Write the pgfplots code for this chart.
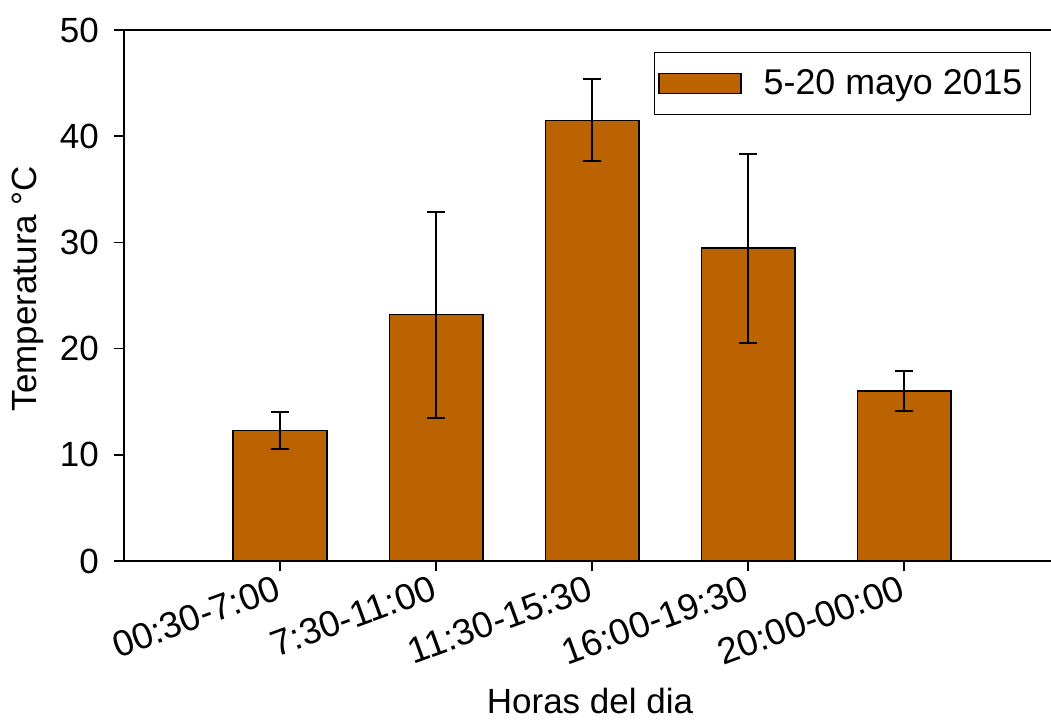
\documentclass[border=0pt]{standalone}
\usepackage{pgfplots}
\pgfplotsset{compat=1.18}
\usepackage{fontspec}
\setmainfont{Liberation Sans}
\definecolor{barbrown}{RGB}{187,99,0}
\newcommand{\chartfont}{\fontsize{17.5}{21}\selectfont}
\newcommand{\tickfont}{\fontsize{18.3}{22}\selectfont}
\newcommand{\legendfont}{\fontsize{17.9}{21}\selectfont}

\pgfplotstableread{
x  y     e
0  12.3  1.73
1  23.2  9.70
2  41.5  3.85
3  29.45 8.90
4  16.0  1.88
}\temps

\begin{document}
\begin{tikzpicture}
\begin{axis}[
  name=ax,
  scale only axis,
  width=463.5pt, height=265.5pt,
  ybar,
  xmin=-1, xmax=4.94,
  ymin=0, ymax=50,
  ytick={0,10,...,50},
  xtick={0,...,4},
  xticklabels={00:30-7:00,7:30-11:00,11:30-15:30,16:00-19:30,20:00-00:00},
  axis x line*=box, axis y line*=left,
  xtick pos=lower,
  tick align=outside,
  major tick length=5pt,
  axis line style={line width=0.85pt, black},
  every tick/.style={line width=0.85pt, black},
  /pgf/number format/assume math mode=true,
  yticklabel style={font=\chartfont, xshift=-4pt},
  xticklabel style={font=\tickfont, rotate=20, anchor=north east, yshift=3pt},
  ylabel={Temperatura °C},
  xlabel={Horas del dia},
  every axis y label/.style={at={(axis description cs:-0.1036,0.513)}, rotate=90, anchor=center, font=\chartfont},
  every axis x label/.style={at={(axis description cs:0.5027,-0.288)}, anchor=base, font=\chartfont},
  legend style={at={(axis description cs:0.9784,0.9586)}, anchor=north east,
    draw=black, line width=0.5pt, font=\legendfont, inner xsep=2pt, inner ysep=6.5pt},
  legend image code/.code={
    \draw[#1, line width=0.6pt] (0pt,-5pt) rectangle (41pt,5pt);
    \path (50pt,0pt);},
]
\addplot[fill=barbrown, draw=black, line width=0.75pt, bar width=0.6,
  error bars/.cd, y dir=both, y explicit,
  error bar style={line width=0.9pt, black},
  error mark options={rotate=90, mark size=4.5pt, line width=0.9pt, black}]
  table[x=x, y=y, y error=e] {\temps};
\addlegendentry{5-20 mayo 2015}
\end{axis}
\pgfresetboundingbox
\useasboundingbox (ax.south west) ++(-62pt,-79pt) rectangle ++(525.5pt,359.5pt);
\end{tikzpicture}
\end{document}
